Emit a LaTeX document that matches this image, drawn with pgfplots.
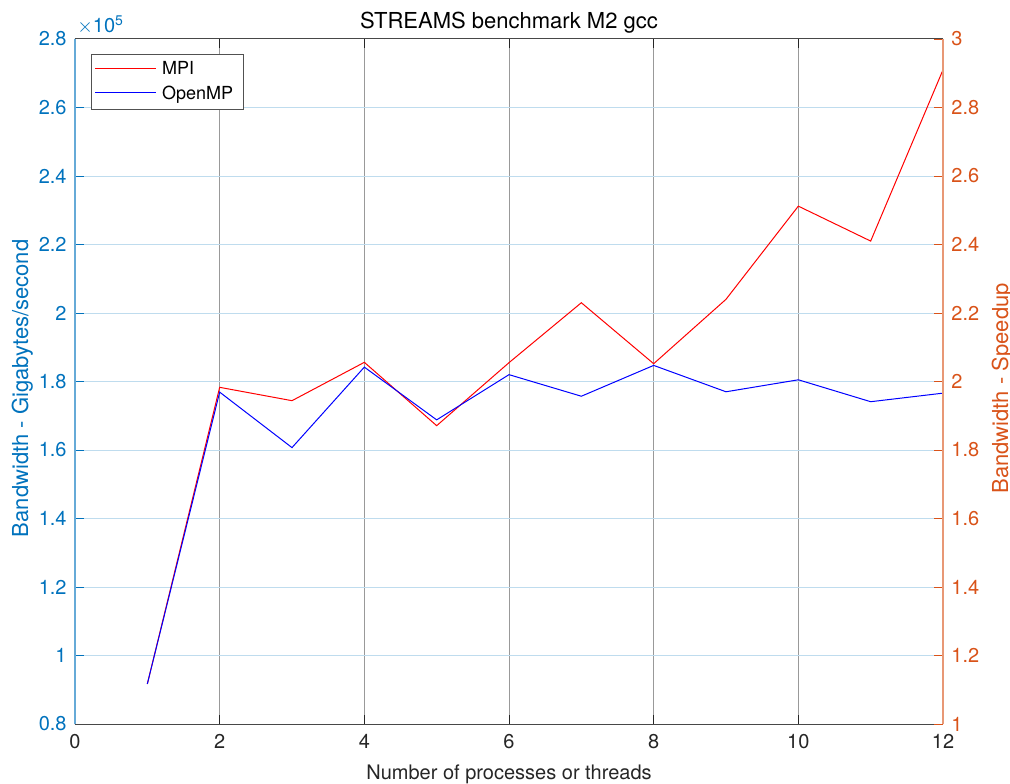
\documentclass[border=0pt]{standalone}
\usepackage{fontspec}
\setmainfont{TeX Gyre Heros}
\usepackage{pgfplots}
\pgfplotsset{compat=1.18}
\definecolor{leftc}{HTML}{0072BD}
\definecolor{rightc}{HTML}{D95319}
\definecolor{txt}{HTML}{262626}

\pgfplotsset{
  base/.style={
    scale only axis, width=434pt, height=342.5pt,
    xmin=0, xmax=12,
    tick align=inside, major tick length=4.5pt,
    /pgf/number format/assume math mode=true,
    every tick/.style={line width=0.5pt},
    ticklabel style={font=\fontsize{10}{12}\selectfont},
    label style={font=\fontsize{11}{13}\selectfont},
  },
}

\begin{document}
\begin{tikzpicture}
\begin{axis}[base, name=main,
  axis x line=box, axis y line*=left, separate axis lines,
  x axis line style={draw=txt!85, line width=0.5pt},
  y axis line style={draw=leftc!60!white, line width=0.6pt},
  ymin=0.8, ymax=2.8,
  ytick={0.8,1,1.2,1.4,1.6,1.8,2,2.2,2.4,2.6,2.8},
  xtick={0,2,4,6,8,10,12},
  grid=major,
  x grid style={black!40, line width=0.5pt},
  y grid style={leftc!25!white, line width=0.5pt},
  ytick style={draw=leftc},
  xtick style={draw=txt},
  yticklabel style={text=leftc, anchor=east, inner sep=0pt, xshift=-4pt},
  xticklabel style={text=txt, anchor=north, inner sep=0pt, yshift=-5pt},
  xlabel={Number of processes or threads},
  xlabel style={at={(axis description cs:0.5,-0.0803)}, anchor=base, inner sep=0pt, text=txt},
  ylabel={Bandwidth - Gigabytes/second},
  ylabel style={at={(axis description cs:-0.0541,0.49)}, anchor=base, inner sep=0pt, text=leftc},
  legend style={at={(axis description cs:0,1)}, anchor=north west,
    xshift=7.85pt, yshift=-7.5pt, draw=txt!80, line width=0.5pt, fill=white,
    font=\fontsize{9}{10.8}\selectfont, inner xsep=2pt, inner ysep=1.5pt,
    row sep=0pt, nodes={inner xsep=3pt, inner ysep=2pt}, cells={anchor=west}},
]
\addplot[draw=red, line width=0.5pt,
  legend image code/.code={\node[text=red, inner sep=0pt, anchor=west] at (0pt,0pt) {\rule{30.5pt}{0.5pt}};}]
coordinates {
(1,0.917) (2,1.783) (3,1.744) (4,1.856) (5,1.671) (6,1.855)
(7,2.030) (8,1.852) (9,2.040) (10,2.312) (11,2.210) (12,2.710)
};
\addlegendentry{MPI}
\addplot[draw=blue, line width=0.5pt,
  legend image code/.code={\node[text=blue, inner sep=0pt, anchor=west] at (0pt,0pt) {\rule{30.5pt}{0.5pt}};}]
coordinates {
(1,0.917) (2,1.769) (3,1.607) (4,1.842) (5,1.688) (6,1.820)
(7,1.757) (8,1.847) (9,1.770) (10,1.805) (11,1.741) (12,1.766)
};
\addlegendentry{OpenMP}
\end{axis}
\begin{axis}[base,
  axis x line=none, axis y line*=right,
  ymin=1, ymax=3,
  ytick={1,1.2,1.4,1.6,1.8,2,2.2,2.4,2.6,2.8,3},
  y axis line style={draw=rightc!60!white, line width=0.6pt},
  ytick style={draw=rightc},
  yticklabel style={text=rightc, anchor=west, inner sep=0pt, xshift=4pt},
  ylabel={Bandwidth - Speedup},
  ylabel style={at={(axis description cs:1.0749,0.49)}, anchor=base, rotate=0, inner sep=0pt, text=rightc},
]
\addplot[draw=none, forget plot] coordinates {(0,1) (12,3)};
\end{axis}
\node[anchor=base, inner sep=0pt, text=black, font=\fontsize{11}{13}\selectfont]
  at ([yshift=5pt]main.north) {STREAMS benchmark M2 gcc};
\node[anchor=base west, inner sep=0pt, text=leftc, font=\fontsize{10}{12}\selectfont]
  at ([xshift=1pt,yshift=3pt]main.north west) {$\times$10\textsuperscript{5}};
\pgfresetboundingbox
\path[use as bounding box] ([xshift=-37.5pt,yshift=-29.5pt]main.south west)
  rectangle ([xshift=33.5pt,yshift=19.5pt]main.north east);
\end{tikzpicture}
\end{document}
